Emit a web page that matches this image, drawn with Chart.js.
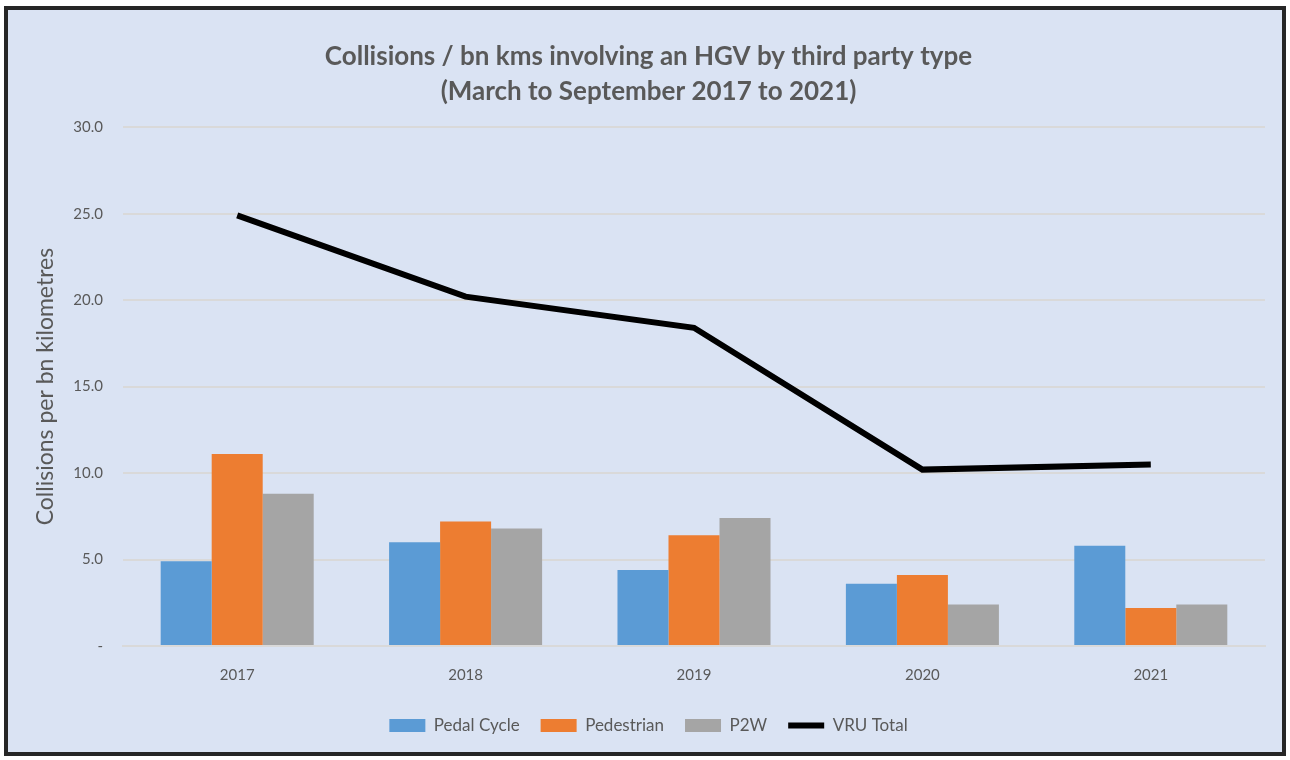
<!DOCTYPE html>
<html>
<head>
<meta charset="utf-8">
<script src="https://cdn.jsdelivr.net/npm/chart.js@4"></script>
<style>
  body { margin: 0; background: #ffffff; }
  #wrap { position: absolute; left: 0; top: 0; width: 1290px; height: 760px; }
</style>
</head>
<body>
<div id="wrap"><canvas id="hgvChart" width="1290" height="760"></canvas></div>
<script>
// data
const YEARS = ['2017', '2018', '2019', '2020', '2021'];
const PEDAL_CYCLE = [4.9, 6.0, 4.4, 3.6, 5.8];
const PEDESTRIAN = [11.1, 7.2, 6.4, 4.1, 2.2];
const P2W = [8.8, 6.8, 7.4, 2.4, 2.4];
const VRU_TOTAL = [24.9, 20.2, 18.4, 10.2, 10.5];
const Y_TICKS = [0, 5, 10, 15, 20, 25, 30];

const TEXT_COLOR = '#595959';
const FONT = 'Lato, "Open Sans", sans-serif';

// background panel + dark frame
const framePlugin = {
  id: 'frame',
  beforeDraw(chart) {
    const c = chart.ctx;
    c.save();
    c.fillStyle = '#dae3f3';
    c.fillRect(6, 8, 1278, 746);
    c.strokeStyle = '#262626';
    c.lineWidth = 4;
    c.strokeRect(6, 8, 1278, 746);
    c.restore();
  }
};

let ctx = document.querySelector('#hgvChart').getContext('2d');
let myChart = new Chart(ctx, {
  type: 'bar',
  data: {
    labels: YEARS,
    datasets: [
      {
        label: 'VRU Total',
        type: 'line',
        data: VRU_TOTAL,
        borderColor: '#000000',
        backgroundColor: '#000000',
        borderWidth: 6,
        pointRadius: 0,
        pointStyle: 'line',
        order: 0
      },
      {
        label: 'Pedal Cycle',
        data: PEDAL_CYCLE,
        backgroundColor: '#5b9bd5',
        borderColor: '#5b9bd5',
        borderWidth: 0,
        pointStyle: 'rect',
        order: 1
      },
      {
        label: 'Pedestrian',
        data: PEDESTRIAN,
        backgroundColor: '#ed7d31',
        borderColor: '#ed7d31',
        borderWidth: 0,
        pointStyle: 'rect',
        order: 1
      },
      {
        label: 'P2W',
        data: P2W,
        backgroundColor: '#a5a5a5',
        borderColor: '#a5a5a5',
        borderWidth: 0,
        pointStyle: 'rect',
        order: 1
      }
    ]
  },
  options: {
    responsive: false,
    animation: false,
    layout: { padding: { left: 32, right: 25, top: 29, bottom: 16 } },
    datasets: {
      bar: { categoryPercentage: 0.67, barPercentage: 1.0 }
    },
    plugins: {
      title: {
        display: true,
        text: ['Collisions / bn kms involving an HGV by third party type', '(March to September 2017 to 2021)'],
        color: TEXT_COLOR,
        font: { family: FONT, size: 26, weight: 'bold', lineHeight: 1.35 },
        padding: { top: 10, bottom: 18 }
      },
      legend: {
        position: 'bottom',
        labels: {
          color: TEXT_COLOR,
          font: { family: FONT, size: 17 },
          usePointStyle: true,
          pointStyleWidth: 36,
          boxHeight: 13,
          padding: 21,
          sort: (a, b) => {
            const want = ['Pedal Cycle', 'Pedestrian', 'P2W', 'VRU Total'];
            return want.indexOf(a.text) - want.indexOf(b.text);
          }
        }
      },
      tooltip: { enabled: false }
    },
    scales: {
      x: {
        grid: { display: false },
        border: { display: true, color: '#d9d9d9', width: 2 },
        ticks: { color: TEXT_COLOR, font: { family: FONT, size: 15 }, padding: 12 }
      },
      y: {
        min: 0,
        max: 30,
        afterBuildTicks: (scale) => {
          scale.ticks = Y_TICKS.map(v => ({ value: v }));
        },
        afterFit: (scale) => { scale.width = 91; },
        grid: { color: '#d9d9d9', lineWidth: 2, drawTicks: false },
        border: { display: false },
        ticks: {
          color: TEXT_COLOR,
          font: { family: FONT, size: 15 },
          padding: 20,
          callback: (v) => v === 0 ? '-' : v.toFixed(1)
        },
        title: {
          display: true,
          text: 'Collisions per bn kilometres',
          color: TEXT_COLOR,
          font: { family: FONT, size: 23 },
          padding: 0
        }
      }
    }
  },
  plugins: [framePlugin]
});
</script>
</body>
</html>
